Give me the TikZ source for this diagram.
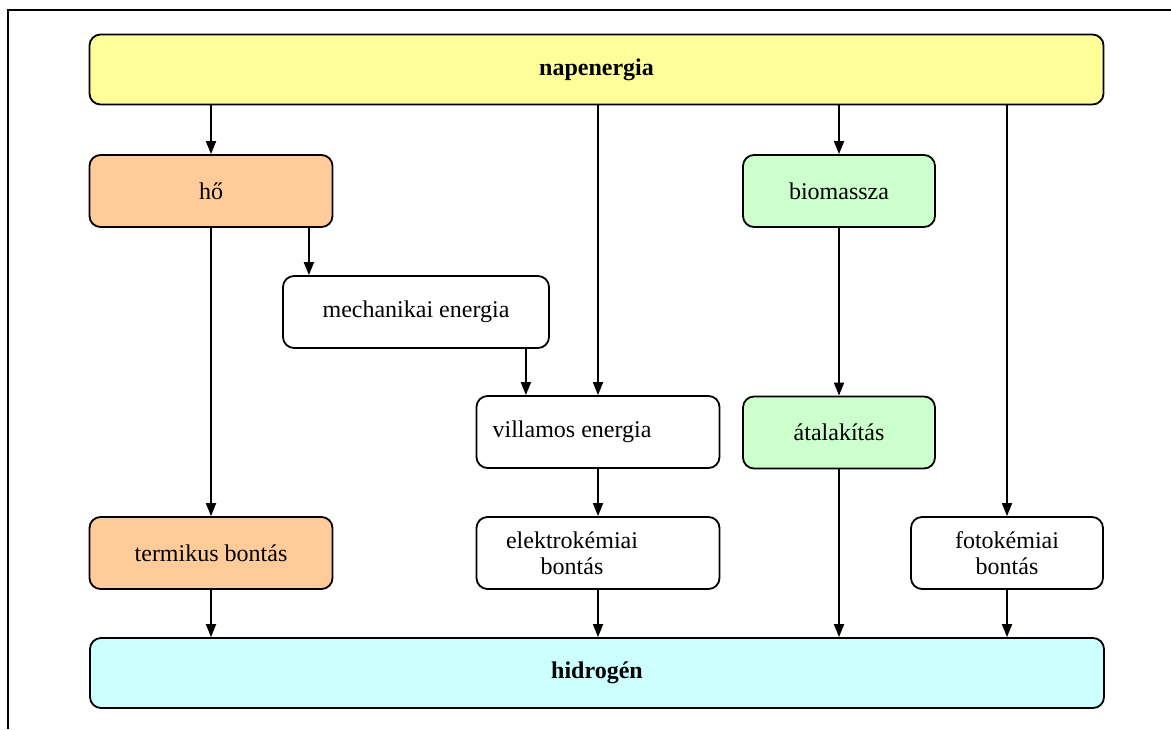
\documentclass[tikz,border=0pt]{standalone}
\usepackage{fontspec}
\setmainfont{Liberation Serif}
\usepackage{tikz}
\usetikzlibrary{arrows.meta,positioning}
\definecolor{h2yellow}{HTML}{FFFF99}
\definecolor{h2orange}{HTML}{FFCC99}
\definecolor{h2green}{HTML}{CCFFCC}
\definecolor{h2cyan}{HTML}{CCFFFF}
\tikzset{
  box/.style={rounded corners=5.5pt,draw=black,line width=0.9pt,fill=white,align=center,inner sep=0pt,font=\fontsize{12}{13}\selectfont,minimum height=36pt,minimum width=121.5pt},
  heat/.style={box,fill=h2orange},
  bio/.style={box,fill=h2green,minimum width=96pt},
  wide/.style={box,minimum width=507pt,minimum height=35pt,font=\fontsize{12}{13}\selectfont\bfseries},
  lefttext/.style={label={[align=center,inner sep=0pt,xshift=-13pt,font=\fontsize{12}{13}\selectfont]center:#1}},
  ar/.style={-{Triangle[length=6.5pt,width=5pt]},line width=0.9pt},
}

\begin{document}
\begin{tikzpicture}[x=0.5pt,y=-0.5pt]
  \useasboundingbox (0,0) rectangle (1171,729);
  \draw[line width=1pt] (7.5,729) -- (7.5,9.5) -- (1171,9.5);
  \node[wide,fill=h2yellow] (nap) at (596.5,69.5) {napenergia};
  \node[heat] (ho) at (211,191) {hő};
  \node[box,minimum width=133pt] (mech) at (416,312) {mechanikai energia};
  \node[box,lefttext={villamos energia}] (vill) at (598,432) {};
  \node[box,lefttext={elektrokémiai\\bontás}] (elek) at (598,553) {};
  \node[bio] (bio) at (839,191) {biomassza};
  \node[bio] (atal) at (839,432.5) {átalakítás};
  \node[heat] (term) at (211,553) {termikus bontás};
  \node[box,minimum width=96pt] (foto) at (1007,553) {fotokémiai\\bontás};
  \node[wide,fill=h2cyan] (hid) at (597,673) {hidrogén};
  \draw[ar] (nap.south -| ho) -- (ho);
  \draw[ar] (nap.south -| vill) -- (vill);
  \draw[ar] (nap.south -| bio) -- (bio);
  \draw[ar] (nap.south -| foto) -- (foto);
  \draw[ar] (ho) -- (term);
  \draw[ar] ([xshift=-12.25pt]ho.south east) -- ([xshift=-12.25pt]ho.south east |- mech.north);
  \draw[ar] ([xshift=-12pt]mech.south east) -- ([xshift=-12pt]mech.south east |- vill.north);
  \draw[ar] (vill) -- (elek);
  \draw[ar] (bio) -- (atal);
  \draw[ar] (term) -- (hid.north -| term);
  \draw[ar] (elek) -- (hid.north -| elek);
  \draw[ar] (atal) -- (hid.north -| atal);
  \draw[ar] (foto) -- (hid.north -| foto);
\end{tikzpicture}
\end{document}
